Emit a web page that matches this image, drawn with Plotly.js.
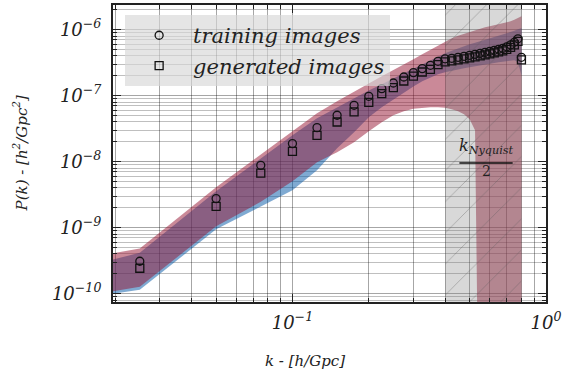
<!DOCTYPE html>
<html><head><meta charset="utf-8">
<script src="https://cdn.plot.ly/plotly-3.0.1.min.js"></script>
<style>html,body{margin:0;padding:0;background:#fff}#chart{width:564px;height:374px}</style>
</head><body><div id="chart"></div>
<script>
// ---- data ----
const kPoints = [0.025,0.05,0.075,0.1,0.125,0.15,0.175,0.2,0.225,0.25,0.275,0.3,0.325,0.35,0.375,0.4,
  0.425,0.45,0.475,0.5,0.525,0.55,0.575,0.6,0.625,0.65,0.675,0.7,0.725,0.75,0.775,0.8];
const trainingPk = [3.09e-10,2.75e-9,8.79e-9,1.875e-8,3.27e-8,5.04e-8,7.13e-8,9.76e-8,1.276e-7,1.552e-7,1.914e-7,2.23e-7,2.565e-7,2.876e-7,3.31e-7,3.61e-7,
  3.674e-7,3.805e-7,3.94e-7,4.08e-7,4.223e-7,4.373e-7,4.53e-7,4.69e-7,4.857e-7,5.03e-7,5.21e-7,5.49e-7,5.885e-7,6.42e-7,7.25e-7,3.805e-7];
const generatedPk = [2.42e-10,2.10e-9,6.71e-9,1.432e-8,2.50e-8,3.98e-8,5.65e-8,7.92e-8,1.07e-7,1.32e-7,1.664e-7,1.98e-7,2.28e-7,2.50e-7,2.95e-7,3.25e-7,
  3.366e-7,3.485e-7,3.61e-7,3.738e-7,3.871e-7,4.009e-7,4.151e-7,4.30e-7,4.452e-7,4.61e-7,4.774e-7,5.03e-7,5.39e-7,5.885e-7,6.65e-7,3.485e-7];

const bandK = [0.019,0.025,0.05,0.075,0.1,0.125,0.15,0.175,0.2,0.225,0.25,0.275,0.3,0.325,0.35,0.375,0.4,
  0.425,0.45,0.475,0.5,0.525,0.55,0.575,0.6,0.625,0.65,0.675,0.7,0.725,0.75,0.775,0.8];
const trainingLow = [9.75e-11,1.14e-10,9.42e-10,2.10e-9,3.67e-9,7.38e-9,1.59e-8,2.78e-8,4.69e-8,6.65e-8,8.79e-8,1.12e-7,1.38e-7,1.65e-7,1.89e-7,2.10e-7,2.25e-7,
  2.38e-7,2.50e-7,2.59e-7,2.68e-7,2.78e-7,2.88e-7,2.98e-7,3.08e-7,3.14e-7,3.20e-7,3.25e-7,3.31e-7,3.37e-7,3.43e-7,3.20e-7,2.03e-7];
const trainingHigh = [3.20e-10,4.15e-10,3.55e-9,1.12e-8,2.50e-8,4.53e-8,6.65e-8,9.27e-8,1.20e-7,1.48e-7,1.83e-7,2.18e-7,2.55e-7,2.98e-7,3.43e-7,3.87e-7,4.38e-7,
  4.77e-7,5.21e-7,5.58e-7,5.99e-7,6.31e-7,6.65e-7,7.00e-7,7.38e-7,7.78e-7,8.20e-7,8.49e-7,8.79e-7,9.10e-7,9.59e-7,1.01e-6,1.046e-6];
const generatedLow = [1.064e-10,1.27e-10,1.047e-9,2.46e-9,5.03e-9,9.75e-9,1.38e-8,1.96e-8,2.88e-8,3.94e-8,5.04e-8,5.78e-8,6.31e-8,6.53e-8,6.65e-8,6.65e-8,6.53e-8,
  6.20e-8,5.78e-8,5.21e-8,4.38e-8,2.98e-8,1e-14,1e-14,1e-14,1e-14,1e-14,1e-14,1e-14,1e-14,1e-14,1e-14,1e-14];
const generatedHigh = [4.01e-10,4.81e-10,4.08e-9,1.29e-8,2.88e-8,5.40e-8,8.20e-8,1.16e-7,1.53e-7,1.96e-7,2.42e-7,2.93e-7,3.55e-7,4.23e-7,4.94e-7,5.78e-7,6.65e-7,
  7.38e-7,8.05e-7,8.64e-7,9.26e-7,9.76e-7,1.028e-6,1.083e-6,1.122e-6,1.162e-6,1.203e-6,1.246e-6,1.29e-6,1.336e-6,1.408e-6,1.483e-6,1.591e-6];

const kNyquistHalf = 0.4, kNyquist = 0.8;
const xTickVals = [0.1, 1];
const xTickText = ['10<sup>\u22121</sup>', '10<sup>0</sup>'];
const yTickVals = [1e-10, 1e-9, 1e-8, 1e-7, 1e-6];
const yTickText = ['10<sup>\u221210</sup>','10<sup>\u22129</sup>','10<sup>\u22128</sup>','10<sup>\u22127</sup>','10<sup>\u22126</sup>'];
const xRange = [0.0196, 1.0];
const yRange = [7.46e-11, 2.36e-6];

// ---- helpers ----
function minorTicks(lo, hi){ const out=[]; for(let e=Math.floor(Math.log10(lo)); e<=Math.ceil(Math.log10(hi)); e++){ for(let m=2;m<=9;m++){ const v=m*Math.pow(10,e); if(v>=lo&&v<=hi) out.push(v);} } return out; }
const serif = 'DejaVu Serif';
const red = 'rgba(150,20,50,0.5)';
const blue = 'rgba(0,85,165,0.5)';

const traces = [
  {x: bandK, y: trainingLow, mode:'lines', line:{width:0}, showlegend:false, hoverinfo:'skip'},
  {x: bandK, y: trainingHigh, mode:'lines', line:{width:0}, fill:'tonexty', fillcolor: blue, showlegend:false, hoverinfo:'skip'},
  {x: bandK, y: generatedLow, mode:'lines', line:{width:0}, showlegend:false, hoverinfo:'skip'},
  {x: bandK, y: generatedHigh, mode:'lines', line:{width:0}, fill:'tonexty', fillcolor: red, showlegend:false, hoverinfo:'skip'},
  {x: [kNyquistHalf, kNyquistHalf, kNyquist, kNyquist], y: [yRange[0]/10, yRange[1]*10, yRange[1]*10, yRange[0]/10],
   mode:'lines', line:{width:0}, fill:'toself', fillcolor:'rgba(128,128,128,0.3)',
   fillpattern:{shape:'/', bgcolor:'rgba(128,128,128,0.3)', fgcolor:'rgba(90,90,90,0.4)', size:22, solidity:0.04},
   showlegend:false, hoverinfo:'skip'},
  {x: kPoints, y: trainingPk, mode:'markers', name:'training images', legendgroup:'a',
   marker:{symbol:'circle-open', size:8, color:'#111', line:{width:1.3, color:'#111'}}},
  {x: kPoints, y: generatedPk, mode:'markers', name:'generated images', legendgroup:'b',
   marker:{symbol:'square-open', size:8, color:'#111', line:{width:1.3, color:'#111'}}}
];

const axisCommon = {
  type:'log', showline:true, mirror:'allticks', linecolor:'#222', linewidth:2,
  ticks:'inside', ticklen:8, tickwidth:1.5, tickcolor:'#222',
  showgrid:true, gridcolor:'rgba(0,0,0,0.35)', gridwidth:1, zeroline:false,
  tickmode:'array',
  tickfont:{family:serif, size:18, style:'italic', color:'#222'}
};

const layout = {
  width:564, height:374,
  margin:{l:113, r:18, t:5, b:72},
  paper_bgcolor:'#fff', plot_bgcolor:'#fff',
  showlegend:true,
  legend:{x:0.028, y:0.966, xanchor:'left', yanchor:'top', bgcolor:'rgba(215,215,215,0.65)', borderwidth:0,
    font:{family:serif, size:21, style:'italic', color:'#222'}, tracegroupgap:0, itemwidth:58},
  xaxis: Object.assign({}, axisCommon, {
    range:[Math.log10(xRange[0]), Math.log10(xRange[1])],
    tickvals:xTickVals, ticktext:xTickText, ticklabelstandoff:3,
    minor:{tickvals:minorTicks(xRange[0], xRange[1]), ticks:'inside', ticklen:4, tickwidth:1, tickcolor:'#222', showgrid:true, gridcolor:'rgba(0,0,0,0.35)', gridwidth:1}
  }),
  yaxis: Object.assign({}, axisCommon, {
    range:[Math.log10(yRange[0]), Math.log10(yRange[1])],
    tickvals:yTickVals, ticktext:yTickText, ticklabelstandoff:6,
    minor:{tickvals:minorTicks(yRange[0], yRange[1]), ticks:'inside', ticklen:4, tickwidth:1, tickcolor:'#222', showgrid:true, gridcolor:'rgba(0,0,0,0.25)', gridwidth:1}
  }),
  annotations:[
    {xref:'paper', yref:'paper', x:0.443, y:-0.2, yanchor:'middle', xanchor:'center', showarrow:false,
     text:'k - [h/Gpc]', font:{family:serif, size:15, style:'italic', color:'#222'}},
    {xref:'paper', yref:'paper', x:-0.215, y:0.5, xanchor:'center', yanchor:'middle', textangle:-90, showarrow:false,
     text:'P(k) - [h<sup>2</sup>/Gpc<sup>2</sup>]', font:{family:serif, size:15, style:'italic', color:'#222'}},
    {xref:'paper', yref:'paper', x:0.862, y:0.523, xanchor:'center', yanchor:'middle', showarrow:false,
     text:'k<sub>Nyquist</sub>', font:{family:serif, size:16, style:'italic', color:'#222'}},
    {xref:'paper', yref:'paper', x:0.862, y:0.44, xanchor:'center', yanchor:'middle', showarrow:false,
     text:'2', font:{family:serif, size:14, color:'#222'}}
  ],
  shapes:[
    {type:'line', xref:'paper', yref:'paper', x0:0.8, x1:0.923, y0:0.468, y1:0.468, line:{color:'#111', width:1.5}}
  ]
};

Plotly.newPlot('chart', traces, layout, {staticPlot:true, displayModeBar:false});
</script>
</body></html>
